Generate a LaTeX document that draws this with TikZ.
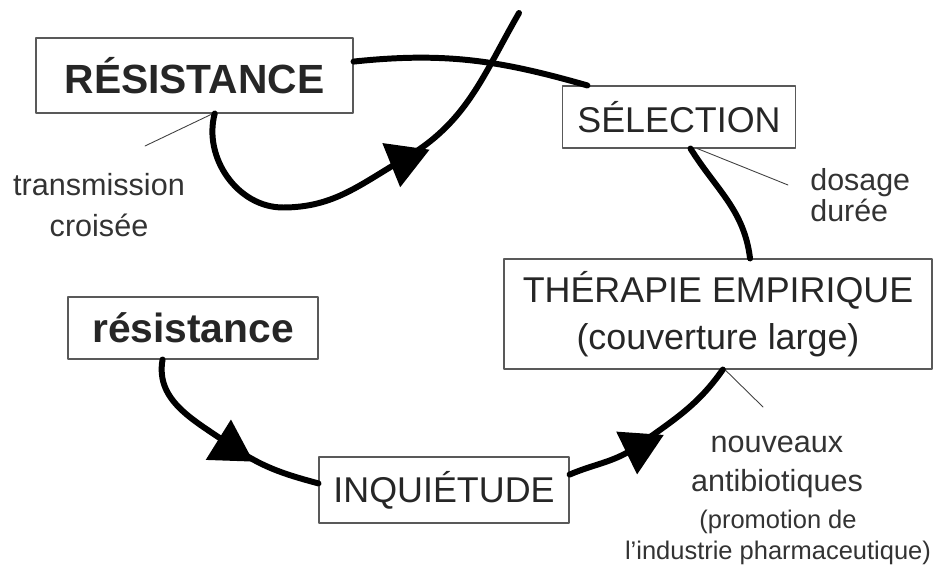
\documentclass[tikz,border=0pt]{standalone}
\usepackage{fontspec}
\setmainfont{Liberation Sans}
\usepackage{tikz}
\usetikzlibrary{shapes.geometric}

\begin{document}
\begin{tikzpicture}[line join=round, line cap=round]
      \tikzstyle{box} = [rectangle, draw=black!65, line width=0.6pt, text=black!85, inner sep=0pt, text centered]
      \tikzstyle{flow} = [line width=3.4pt, draw=black]
      \tikzstyle{leader} = [line width=0.5pt, draw=black!75]
      \tikzstyle{tri} = [regular polygon, regular polygon sides=3, fill=black, minimum size=1.1cm, inner sep=0pt]
      \tikzstyle{note} = [text=black!80, inner sep=0pt]
      \useasboundingbox (0cm,0cm) rectangle (18.76cm,-11.44cm);
      % boxes
      \node (RES) [box, minimum width=6.34cm, minimum height=1.5cm, font=\fontsize{23.2}{27}\selectfont\bfseries] at (3.89cm,-1.51cm) {RÉSISTANCE};
      \node (SEL) [box, minimum width=4.66cm, minimum height=1.24cm, font=\fontsize{20.4}{24}\selectfont] at (13.58cm,-2.34cm) {SÉLECTION};
      \node (THER) [box, minimum width=8.56cm, minimum height=2.2cm, align=center, font=\fontsize{20.4}{26.6}\selectfont] at (14.36cm,-6.28cm) {THÉRAPIE EMPIRIQUE\\(couverture large)};
      \node (res) [box, minimum width=5cm, minimum height=1.24cm, font=\fontsize{23.2}{27}\selectfont\bfseries] at (3.86cm,-6.56cm) {résistance};
      \node (INQ) [box, minimum width=5cm, minimum height=1.32cm, font=\fontsize{20.4}{24}\selectfont] at (8.88cm,-9.8cm) {INQUIÉTUDE};
      % notes
      \node (trans) [note, align=center, font=\fontsize{17.4}{23.8}\selectfont] at (1.98cm,-4.1cm) {transmission\\croisée};
      \node (dose) [note, align=left, anchor=west, font=\fontsize{17.3}{17.6}\selectfont] at (16.2cm,-3.91cm) {dosage\\durée};
      \node (newab) [note, align=center, font=\fontsize{17.4}{22.7}\selectfont] at (15.54cm,-9.34cm) {nouveaux\\antibiotiques};
      \node (promo) [note, align=center, font=\fontsize{14.5}{18.1}\selectfont] at (15.56cm,-10.75cm) {(promotion de\\l'industrie pharmaceutique)};
      \coordinate (trans-end) at (2.9cm,-2.92cm);
      \coordinate (dose-end) at (15.76cm,-3.7cm);
      \coordinate (newab-end) at (15.26cm,-8.14cm);
      \coordinate (top) at (10.38cm,-0.26cm);
      % leaders
      \draw [leader] (trans-end) -- (RES.-64);
      \draw [leader] (SEL.-60) -- (dose-end);
      \draw [leader] (THER.-83) -- (newab-end);
      % cycle
      \draw [flow] (RES.-62) to[out=-105,in=180] (5.66cm,-4.15cm) to[out=0,in=210] (8.08cm,-3.18cm) to[out=30,in=240] (top);
      \draw [flow] (RES.5) to[out=6,in=164] (SEL.161);
      \draw [flow] (SEL.-70) to[out=-58,in=97] (THER.60);
      \draw [flow] (THER.-85) to[out=-125,in=36] (12.78cm,-8.9cm) to[out=-144,in=23] (INQ.7);
      \draw [flow] (res.-134) to[out=-100,in=145] (4.6cm,-8.9cm) to[out=-35,in=165] (INQ.177);
      % arrow marks
      \node (tri1) [tri, rotate=172] at (8.08cm,-3.2cm) {};
      \node (tri2) [tri, rotate=-2] at (4.6cm,-8.94cm) {};
      \node (tri3) [tri, rotate=176] at (12.78cm,-8.94cm) {};
\end{tikzpicture}
\end{document}
